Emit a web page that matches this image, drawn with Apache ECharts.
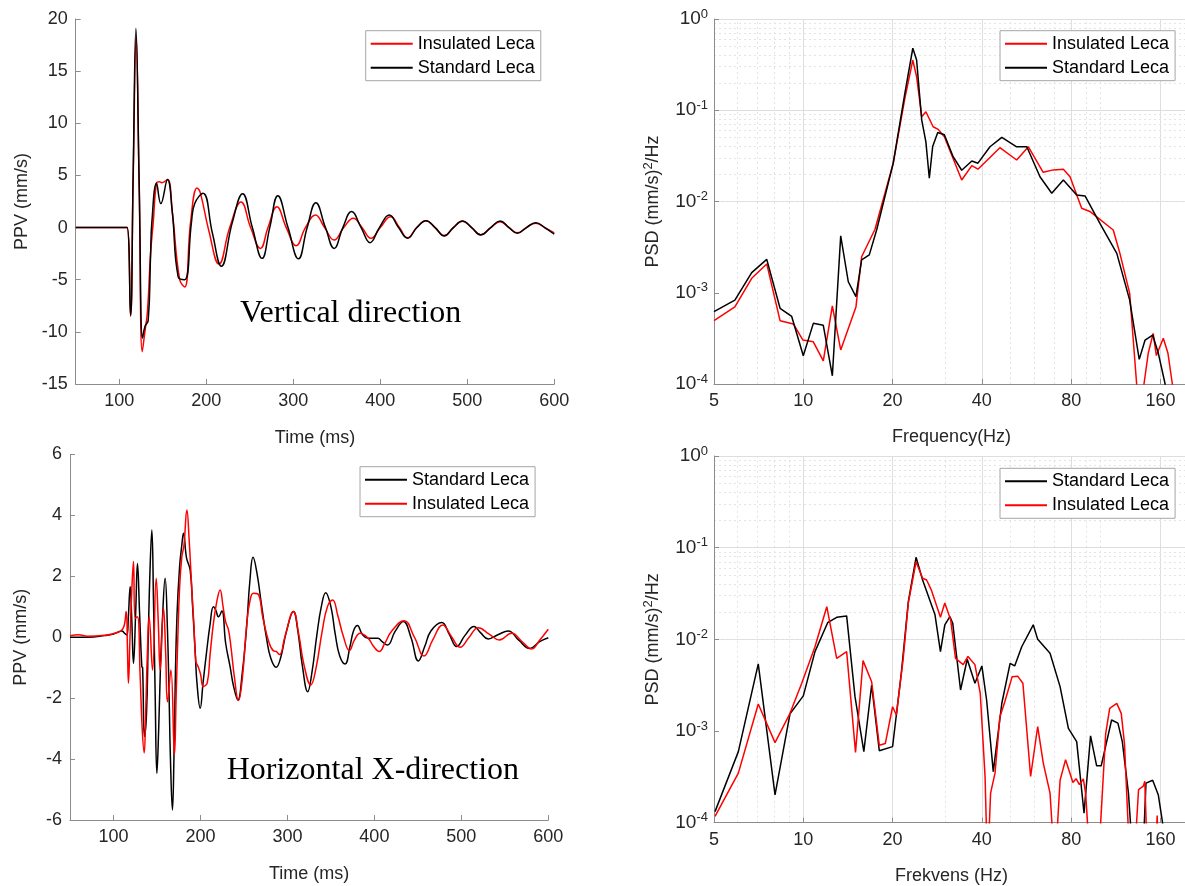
<!DOCTYPE html>
<html>
<head>
<meta charset="utf-8">
<script src="https://cdn.jsdelivr.net/npm/echarts@6/dist/echarts.min.js"></script>
<style>html,body{margin:0;padding:0;background:#fff;}#c{width:1185px;height:886px;}</style>
</head>
<body>
<div id="c"></div>
<script>
// ---------- DATA ----------
const seriesNames = ['Insulated Leca', 'Standard Leca'];
const timeTicks = [100, 200, 300, 400, 500, 600];
const freqTicks = [5, 10, 20, 40, 80, 160];
const freqMinor = [6, 7, 8, 9, 30, 50, 60, 70, 90, 100];
const psdTicks = [1e-4, 1e-3, 1e-2, 1e-1, 1];
const psdMinor = [2,3,4,5,6,7,8,9].flatMap(m => [m*1e-4, m*1e-3, m*1e-2, m*1e-1]);

// Vertical direction, time signals [ms, mm/s]
const vertStd = [[50,0],[105,0],[109,0],[113,-8.4],[116,5],[119.2,19.1],[123,4],[126.8,-10.6],[129.5,-9.5],[133.3,-8.9],[136,-2.8],[137.5,0.5],[142.9,4.25],[147.8,2.3],[155.5,4.6],[161,1.5],[167.7,-4.7],[175.3,-5.0],[183,0.5],[186.8,2.3],[196.3,3.3],[207,-0.5],[217.4,-3.7],[230,0.5],[241.8,3.25],[253,0],[264.2,-2.95],[273,0],[282.3,3.06],[294,0],[306,-3.0],[316,0],[326,2.37],[337,0],[347,-2.0],[357,0],[367,1.53],[378,0],[388.3,-1.45],[399,0],[410.4,1.2],[421,0],[431.4,-1.03],[442,0],[452.5,0.66],[463,0],[473.5,-0.8],[484,0],[494.5,0.63],[505,0],[515.6,-0.71],[527,0],[537.7,0.63],[548,0],[557.6,-0.55],[568,0],[578.7,0.47],[589,0],[600,-0.64]];
const vertIns = [[50,0],[105,0],[109,0],[113,-8.5],[116,4.5],[119.5,18.3],[123,3.5],[126.5,-11.9],[129.5,-10],[132.5,-8],[136,-2.5],[139,0.4],[143,4.3],[145.9,4.4],[149,4.3],[155.5,4.6],[161,1.5],[169.5,-5.0],[175.3,-5.7],[182,0.5],[189.5,3.8],[193,3.4],[203,-0.3],[214.7,-3.5],[227,0],[240,2.45],[251,0],[262.3,-2.0],[271,0],[281.2,2.0],[292,0],[303.4,-1.74],[314,0],[325.6,1.2],[336,0],[347,-1.2],[358,0],[369,0.9],[379,0],[389.4,-1.03],[400,0],[412,1.04],[422,0],[431.4,-0.98],[442,0],[452.5,0.66],[463,0],[473.5,-0.77],[484,0],[494.5,0.6],[505,0],[515.6,-0.68],[527,0],[537.7,0.55],[548,0],[557.6,-0.5],[568,0],[578.7,0.42],[589,0],[600,-0.5]];

// Horizontal X-direction, time signals [ms, mm/s]
const horzStd = [[50,0],[70,0],[90,0.05],[100,0.1],[109.6,0.2],[113,0.12],[115.4,0.07],[117,0.6],[119.2,1.66],[121,0.6],[123,-0.86],[125.5,0.8],[127.6,2.42],[130,0.8],[132.6,-0.97],[133.5,-1.0],[135.6,-3.26],[138,-2.5],[140,0],[142,2.2],[144.1,3.52],[146,1.2],[148,-2.0],[149.9,-4.47],[152,-3],[154,-1.0],[156,0.4],[159.4,1.93],[162,0.3],[164,-2],[165.5,-4],[167.8,-5.67],[169.5,-4.0],[171,-1.5],[173,0.7],[176,2.3],[178.5,3.0],[180.5,3.41],[184,2.6],[188.2,2.2],[191,1.0],[194,-0.5],[196,-1.5],[199.7,-2.33],[203,-1.5],[207,-0.5],[211,0.4],[214.9,1.0],[217.5,0.9],[220.7,0.67],[224.6,0.86],[229,-0.2],[234.1,-0.97],[238,-1.6],[243,-2.06],[248,-1.2],[253,0.3],[257,1.9],[260.5,2.62],[265,2.1],[270.5,1.0],[276.3,-0.09],[281,-0.7],[287,-0.99],[292,-0.7],[299,0.2],[306.9,0.84],[312,0.2],[317,-0.9],[323.4,-1.79],[328,-1.2],[334,0.1],[339,1.0],[344,1.46],[350,1.0],[355,0.1],[360,-0.6],[366.3,-0.88],[372,-0.3],[376,0.2],[380.5,0.38],[386,0.1],[393,-0.04],[404,-0.04],[409,-0.15],[415,-0.26],[424,0.2],[433.4,0.51],[442,0],[450.6,-0.78],[458,-0.3],[465,0.2],[477.5,0.48],[486,0.1],[494.7,-0.31],[504,0.05],[514.6,0.35],[522,0.15],[531,-0.06],[542,0.08],[554,0.2],[566,-0.1],[578.9,-0.37],[590,-0.15],[600,-0.02]];
const horzIns = [[50,0.05],[60,0.08],[70,0.03],[90,0.06],[100,0.12],[108,0.2],[112,0.35],[114.6,0.84],[116,-0.3],[117.2,-1.51],[119,0.0],[121,1.5],[123,2.48],[124.9,0.62],[127.6,0.67],[130.7,-1.3],[133,-3],[135.3,-3.8],[137,-2.5],[139,-0.5],[141,0.67],[144.9,-1.08],[149.1,1.93],[151.5,0.5],[153.7,-1.08],[157.5,0.95],[160,-0.5],[162.1,-2.12],[166,-1.08],[170.1,-3.86],[172,-2.0],[174,0],[176,1.6],[178.6,2.64],[181,3.0],[184.4,4.17],[187,3.2],[190.1,1.55],[192.5,0.4],[194.7,-0.8],[197.4,-0.97],[200,-1.2],[203.4,-1.62],[207.8,-1.5],[211,-0.6],[214.9,0.45],[219,1.2],[222.6,1.55],[226,1.0],[229,0.5],[232.2,0.24],[235,-0.3],[239,-1.3],[243.7,-2.08],[248,-1.4],[253.3,0.45],[257,1.2],[260.9,1.44],[266,1.42],[272,0.6],[279.1,-0.2],[284,-0.45],[287,-0.47],[291,-0.57],[297,0.0],[306.9,0.84],[313,0.1],[319,-0.9],[326.9,-1.57],[333,-1.0],[340,0.2],[346,1.0],[352,1.22],[358,0.7],[364.4,0.02],[371.3,-0.44],[377,-0.1],[383.6,0.13],[393,-0.04],[399,-0.3],[405.6,-0.47],[412,-0.2],[420,0.2],[434.1,0.54],[446,0],[457.1,-0.62],[467,-0.1],[478.6,0.4],[488,0.05],[498.5,-0.33],[509,0],[519.5,0.31],[532,0.1],[543.7,-0.09],[557.9,0.13],[570,-0.15],[580.9,-0.39],[590,-0.1],[600,0.26]];

// PSD, vertical [Hz, (mm/s)^2/Hz]
const psdVertStd = [[5,6.2e-4],[5.88,8.3e-4],[6.70,1.66e-3],[7.53,2.32e-3],[8.35,6.76e-4],[9.14,5.5e-4],[10.0,2.04e-4],[10.81,4.62e-4],[11.68,4.4e-4],[12.53,1.23e-4],[13.37,4.2e-3],[14.18,1.32e-3],[15.05,9.06e-4],[15.73,2.29e-3],[16.69,2.6e-3],[17.68,4.9e-3],[20.1,0.0263],[22.0,0.153],[23.4,0.478],[24.1,0.355],[25.08,0.078],[25.9,0.045],[26.6,0.018],[27.3,0.040],[28.4,0.057],[29.9,0.054],[32.0,0.031],[34.2,0.022],[37.0,0.0278],[38.8,0.0263],[42.6,0.0398],[46.7,0.0505],[52.4,0.0398],[56.7,0.0398],[62.8,0.0187],[68.8,0.0123],[75.3,0.0172],[83.5,0.0118],[89.1,0.0115],[100,5.77e-3],[114,2.7e-3],[126,8.3e-4],[135.7,1.86e-4],[142,3.03e-4],[150.6,3.44e-4],[157.4,2.17e-4],[165.7,1.02e-4],[172,4e-5]];
const psdVertIns = [[5,4.94e-4],[5.88,7.0e-4],[6.70,1.44e-3],[7.53,2.07e-3],[8.35,4.94e-4],[9.26,4.55e-4],[9.97,3.03e-4],[10.81,2.9e-4],[11.68,1.79e-4],[12.53,7.16e-4],[13.37,2.36e-4],[15.05,7.0e-4],[15.73,2.48e-3],[17.45,4.96e-3],[20.1,0.0263],[22.0,0.135],[23.4,0.355],[24.1,0.233],[25.08,0.085],[25.9,0.0964],[27.4,0.066],[28.5,0.0617],[29.9,0.0513],[34.2,0.0172],[37.0,0.0247],[38.8,0.0226],[46.0,0.0389],[52.4,0.0285],[57.4,0.0398],[64.4,0.0209],[69.6,0.0222],[75.3,0.0226],[79.3,0.0187],[86.8,8.42e-3],[92.5,7.78e-3],[110.9,4.87e-3],[116.8,2.7e-3],[126,9.86e-4],[133,1.0e-4],[134.5,3e-5],[139.5,3e-5],[140.8,1e-4],[145.5,2.17e-4],[151.2,3.59e-4],[155,2.05e-4],[163.6,3.17e-4],[169.6,2.17e-4],[175.5,1e-4],[180,3e-5]];

// PSD, horizontal X [Hz, (mm/s)^2/Hz]
const psdHorzStd = [[5.04,1.32e-4],[6.04,5.96e-4],[7.05,5.4e-3],[8.03,2.01e-4],[9.02,1.54e-3],[10.0,2.42e-3],[10.95,7.35e-3],[12.08,0.0152],[12.96,0.0174],[14.0,0.018],[14.94,2.37e-3],[16.0,5.96e-4],[17.0,3.18e-3],[18.04,6.1e-4],[20.0,6.76e-4],[21.4,4.27e-3],[22.6,0.0258],[24.0,0.0786],[25.25,0.0444],[27.8,0.0185],[29.0,7.35e-3],[30.0,0.0144],[31.2,0.0177],[31.9,0.0150],[33.9,2.8e-3],[35.7,6.07e-3],[37.9,3.32e-3],[40.0,5.13e-3],[41.5,2.18e-3],[43.7,3.61e-4],[46.7,2.01e-3],[49.8,5.48e-3],[51.6,5.13e-3],[54.5,8.3e-3],[59.6,0.0144],[61.7,0.01],[67.9,7.05e-3],[73.4,3.05e-3],[78.3,1.07e-3],[83.5,7.67e-4],[88.4,1.27e-4],[93.0,8.85e-4],[97.5,4.17e-4],[101,4.17e-4],[109.5,1.32e-3],[115,1.22e-3],[119,7.67e-4],[124.8,2.1e-4],[130,3e-5],[139,3e-5],[143,2.7e-4],[150.6,2.9e-4],[157.4,2.0e-4],[162.6,1e-4],[166,3e-5]];
const psdHorzIns = [[5.04,1.17e-4],[6.04,3.47e-4],[7.05,1.97e-3],[8.03,7.47e-4],[9.02,1.56e-3],[9.88,3.32e-3],[10.95,8.3e-3],[12.0,0.0227],[12.96,6.2e-3],[14.0,7.35e-3],[15.0,5.85e-4],[15.9,5.86e-3],[17.0,3.45e-3],[18.04,7.0e-4],[18.9,7.3e-4],[20.0,1.84e-3],[20.6,1.5e-3],[21.7,6.0e-3],[22.6,0.0249],[24.0,0.0703],[25.25,0.0464],[26.05,0.0444],[27.0,0.0347],[29.0,0.0174],[30.0,0.0249],[31.4,0.0163],[32.6,6.2e-3],[34.6,5.3e-3],[35.9,6.5e-3],[37.9,5.3e-3],[39.5,2.58e-3],[41.0,3.2e-4],[41.8,3e-5],[42.3,3e-5],[42.8,2.1e-4],[44.3,3.47e-4],[46.0,1.42e-3],[47.8,2.09e-3],[50.6,3.92e-3],[52.8,3.97e-3],[55.0,3.32e-3],[58.4,3.2e-4],[61.7,1.12e-3],[64.4,4.5e-4],[67.9,2.1e-4],[70.5,3e-5],[71.5,3e-5],[73.4,2.9e-4],[76.6,4.87e-4],[81.1,2.74e-4],[83.1,3.02e-4],[85.3,2.6e-4],[87.9,3.0e-4],[89.5,2.1e-4],[93,3e-5],[98.5,3e-5],[104.6,9.45e-4],[107.9,1.77e-3],[114,2.0e-3],[118,1.56e-3],[121,7.3e-4],[126.5,3e-5],[130,3e-5],[135,2.3e-4],[140,2.5e-4],[141.7,2.83e-4],[145,3e-5],[153,3e-5],[156,1.2e-4],[158,3e-5]];

// ---------- STYLE ----------
const FONT = '"Liberation Sans", Arial, sans-serif';
const RED = '#ff0000', BLACK = '#000000';
const axisGray = '#8c8c8c';
const labelCol = '#262626';

function timeX(gi) {
  return {
    gridIndex: gi, type: 'value', min: 50, max: 600,
    name: 'Time (ms)', nameLocation: 'middle', nameGap: 45,
    nameTextStyle: {fontSize: 18, color: labelCol, fontFamily: FONT},
    axisLine: {show: true, onZero: false, lineStyle: {color: axisGray, width: 1}},
    axisTick: {show: true, inside: true, length: 5, customValues: timeTicks, lineStyle: {color: axisGray}},
    axisLabel: {customValues: timeTicks, fontSize: 18, color: labelCol, fontFamily: FONT, margin: 8},
    splitLine: {show: false}
  };
}
function timeY(gi, min, max, interval, gap) {
  return {
    gridIndex: gi, type: 'value', min: min, max: max, interval: interval,
    name: 'PPV (mm/s)', nameLocation: 'middle', nameGap: gap,
    nameTextStyle: {fontSize: 18, color: labelCol, fontFamily: FONT},
    axisLine: {show: true, onZero: false, lineStyle: {color: axisGray, width: 1}},
    axisTick: {show: true, inside: true, length: 5, lineStyle: {color: axisGray}},
    axisLabel: {fontSize: 18, color: labelCol, fontFamily: FONT, margin: 8},
    splitLine: {show: false}
  };
}
function freqX(gi, name) {
  return {
    gridIndex: gi, type: 'log', logBase: 2, min: 5, max: 200,
    name: name, nameLocation: 'middle', nameGap: 44,
    nameTextStyle: {fontSize: 18, color: labelCol, fontFamily: FONT},
    axisLine: {show: true, onZero: false, lineStyle: {color: axisGray, width: 1}},
    axisTick: {show: true, inside: true, length: 5, customValues: freqTicks, lineStyle: {color: axisGray}},
    axisLabel: {customValues: freqTicks, fontSize: 18, color: labelCol, fontFamily: FONT, margin: 8},
    splitLine: {show: false}, minorTick: {show: false}
  };
}
function psdY(gi) {
  return {
    gridIndex: gi, type: 'log', logBase: 10, min: 1e-4, max: 1,
    name: '{a|PSD (mm/s)}{s|2}{a|/Hz}', nameLocation: 'middle', nameGap: 50,
    nameTextStyle: {fontSize: 18, color: labelCol, fontFamily: FONT,
      rich: {a: {fontSize: 18, color: labelCol, fontFamily: FONT},
             s: {fontSize: 13, color: labelCol, fontFamily: FONT, padding: [0, 0, 9, 0]}}},
    axisLine: {show: true, onZero: false, lineStyle: {color: axisGray, width: 1}},
    axisTick: {show: true, inside: true, length: 5, customValues: psdTicks, lineStyle: {color: axisGray}},
    axisLabel: {
      customValues: psdTicks, margin: 6,
      formatter: v => '{b|10}{s|' + Math.round(Math.log10(v)) + '}',
      rich: {b: {fontSize: 19, color: labelCol, fontFamily: FONT},
             s: {fontSize: 13, color: labelCol, fontFamily: FONT, padding: [0, 0, 10, 0]}}
    },
    splitLine: {show: false}
  };
}
function gridLines(xi, yi) {
  const major = {color: '#dedede', width: 1, type: 'solid'};
  const minor = {color: '#e4e4e4', width: 1, type: [2, 3]};
  const data = [];
  freqTicks.forEach(v => data.push({xAxis: v, lineStyle: major}));
  freqMinor.forEach(v => data.push({xAxis: v, lineStyle: minor}));
  psdTicks.forEach(v => data.push({yAxis: v, lineStyle: major}));
  psdMinor.forEach(v => data.push({yAxis: v, lineStyle: minor}));
  return {
    type: 'line', name: 'grid' + xi, xAxisIndex: xi, yAxisIndex: yi, z: 0,
    data: [[5, 1e-4]], showSymbol: false, symbol: 'none', lineStyle: {opacity: 0}, silent: true,
    markLine: {silent: true, symbol: ['none', 'none'], z: 0, label: {show: false}, animation: false, data: data}
  };
}
function ln(name, data, color, xi, z, smooth) {
  return {
    type: 'line', name: name, data: data, xAxisIndex: xi, yAxisIndex: xi,
    showSymbol: false, symbol: 'none', smooth: smooth, z: z, clip: true,
    lineStyle: {color: color, width: 1.5}, itemStyle: {color: color}
  };
}
function legend(left, top, names) {
  return {
    left: left, top: top, orient: 'vertical', data: names,
    icon: 'rect', itemWidth: 42, itemHeight: 2, itemGap: 6, itemTextGap: 5,
    padding: [4, 6, 4, 5], backgroundColor: '#ffffff', borderColor: '#a6a6a6', borderWidth: 1, borderRadius: 0,
    textStyle: {fontSize: 18, color: '#000', fontFamily: FONT}, selectedMode: false
  };
}

const chart = echarts.init(document.getElementById('c'), null, {renderer: 'canvas'});
chart.setOption({
  backgroundColor: '#ffffff',
  animation: false,
  grid: [
    {left: 75.7, top: 19, width: 478.6, height: 365, outerBoundsMode: 'none'},
    {left: 714, top: 19, width: 475.2, height: 365, outerBoundsMode: 'none'},
    {left: 70, top: 454.3, width: 478.3, height: 365.7, outerBoundsMode: 'none'},
    {left: 714, top: 456, width: 475.2, height: 366.7, outerBoundsMode: 'none'}
  ],
  xAxis: [timeX(0), freqX(1, 'Frequency(Hz)'), timeX(2), freqX(3, 'Frekvens (Hz)')],
  yAxis: [timeY(0, -15, 20, 5, 45), psdY(1), timeY(2, -6, 6, 2, 40), psdY(3)],
  legend: [
    legend(365.7, 30.7, [seriesNames[0], seriesNames[1]]),
    legend(1000, 30.7, [seriesNames[0], seriesNames[1]]),
    legend(360, 466.7, [seriesNames[1], seriesNames[0]]),
    legend(1000, 468.3, [seriesNames[1], seriesNames[0]])
  ],
  graphic: [
    {type: 'text', left: 240, top: 298, style: {text: 'Vertical direction', font: '32px "Liberation Serif", "Times New Roman", serif', fill: '#000'}},
    {type: 'text', left: 226.7, top: 754.5, style: {text: 'Horizontal X-direction', font: '32px "Liberation Serif", "Times New Roman", serif', fill: '#000'}}
  ],
  series: [
    gridLines(1, 1),
    gridLines(3, 3),
    ln(seriesNames[0], vertIns, RED, 0, 2, 0.45),
    ln(seriesNames[1], vertStd, BLACK, 0, 3, 0.45),
    ln(seriesNames[0], psdVertIns, RED, 1, 2, false),
    ln(seriesNames[1], psdVertStd, BLACK, 1, 3, false),
    ln(seriesNames[1], horzStd, BLACK, 2, 2, 0.45),
    ln(seriesNames[0], horzIns, RED, 2, 3, 0.45),
    ln(seriesNames[1], psdHorzStd, BLACK, 3, 2, false),
    ln(seriesNames[0], psdHorzIns, RED, 3, 3, false)
  ]
});
</script>
</body>
</html>
